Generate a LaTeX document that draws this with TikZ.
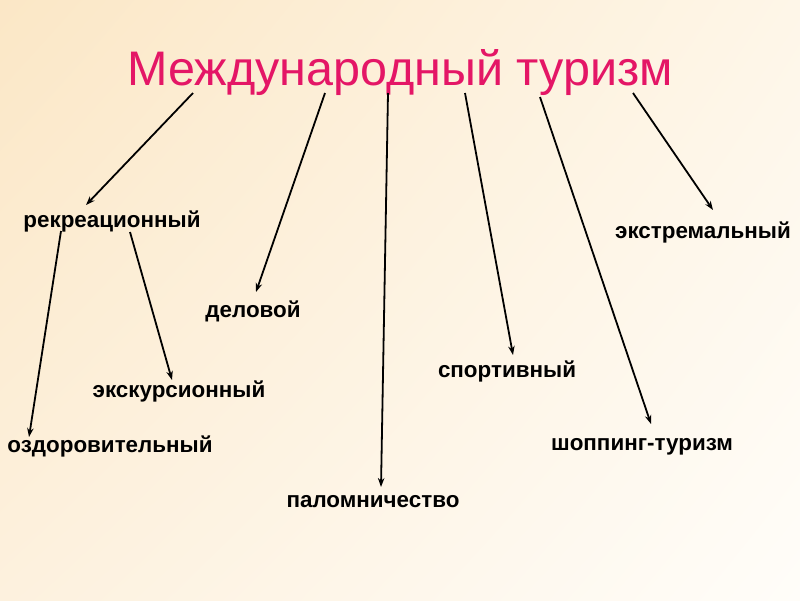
\documentclass[tikz,border=0pt]{standalone}
\usepackage{fontspec}
\setmainfont{Liberation Sans}
\usetikzlibrary{arrows.meta,shadings}
\definecolor{titlecol}{RGB}{228,22,102}
\definecolor{bgUL}{RGB}{251,231,198}
\definecolor{bgUR}{RGB}{254,246,232}
\definecolor{bgLL}{RGB}{253,241,222}
\definecolor{bgLR}{RGB}{255,253,249}
\tikzset{
  lbl/.style={anchor=base, inner sep=0pt, font=\fontsize{22.4}{26}\selectfont\bfseries, text=black},
  arr/.style={line width=1.8pt, -{Stealth[length=9pt,width=6.5pt]}},
}
\begin{document}
\begin{tikzpicture}[x=1pt,y=-1pt]
\shade[upper left=bgUL, upper right=bgUR, lower left=bgLL, lower right=bgLR] (0,0) rectangle (800,600);
\useasboundingbox (0,0) rectangle (800,600);
\node[anchor=base, inner sep=0pt, font=\fontsize{48.5}{54}\selectfont, text=titlecol] (title) at (400,85) {Международный туризм};
\node[lbl] (rek) at (112,227) {рекреационный};
\node[lbl] (del) at (253,317) {деловой};
\node[lbl] (eks) at (179,397) {экскурсионный};
\node[lbl] (ozd) at (110,452) {оздоровительный};
\node[lbl] (pal) at (373,507) {паломничество};
\node[lbl] (spo) at (507,377) {спортивный};
\node[lbl] (sho) at (642,450) {шоппинг-туризм};
\node[lbl] (ext) at (703,238) {экстремальный};
% connector end points
\coordinate (t1) at (193,93);  \coordinate (e1) at (86,205);
\coordinate (t2) at (325,93);  \coordinate (e2) at (256,292);
\coordinate (t3) at (388,93);  \coordinate (e3) at (381,487);
\coordinate (t4) at (465,93);  \coordinate (e4) at (513,355);
\coordinate (t5) at (540,97);  \coordinate (e5) at (651,424);
\coordinate (t6) at (633,93);  \coordinate (e6) at (713,210);
\coordinate (r1) at (61,231);  \coordinate (e7) at (29,437);
\coordinate (r2) at (130,232); \coordinate (e8) at (172,380);
\draw[arr] (t1) -- (e1);
\draw[arr] (t2) -- (e2);
\draw[arr] (t3) -- (e3);
\draw[arr] (t4) -- (e4);
\draw[arr] (t5) -- (e5);
\draw[arr] (t6) -- (e6);
\draw[arr] (r1) -- (e7);
\draw[arr] (r2) -- (e8);
\end{tikzpicture}
\end{document}
